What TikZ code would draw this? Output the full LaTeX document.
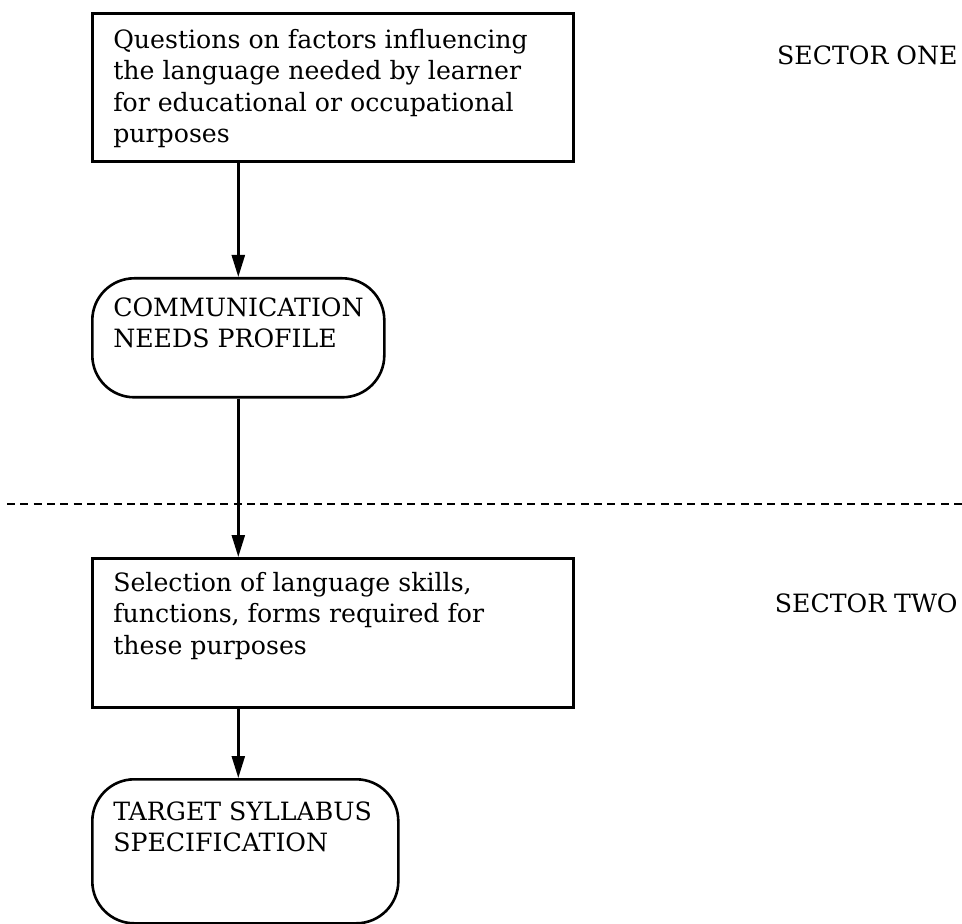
\documentclass[tikz,border=0pt]{standalone}
\usepackage{fontspec}
\setmainfont{DejaVu Serif}
\usetikzlibrary{arrows.meta}
\newcommand{\boxtxt}[5]{\parbox[t][#2][t]{#1}{\raggedright\leftskip=#3\relax\rule{0pt}{#4}#5}}
\tikzset{
  txt/.style={font=\fontsize{12.6pt}{15.75pt}\selectfont},
  rectbox/.style={draw, line width=1.3pt, inner sep=0pt, anchor=north west, txt},
  roundbox/.style={rectbox, rounded corners=21pt},
  arr/.style={line width=1.2pt, -{Triangle[length=11pt,width=6.5pt]}},
  sector/.style={txt, inner sep=0pt, anchor=base east},
  divider/.style={dash pattern=on 4pt off 2.67pt, line width=0.8pt}
}
\begin{document}
\begin{tikzpicture}[x=0.5pt,y=-0.5pt]
\useasboundingbox (0,0) rectangle (962,924);
\node[rectbox] (q) at (91,12) {\boxtxt{240.5pt}{74pt}{10.5pt}{17.5pt}{Questions on factors influencing\\the language needed by learner\\for educational or occupational\\purposes}};
\node[roundbox] (cp) at (91,277) {\boxtxt{146pt}{59.5pt}{10.5pt}{19pt}{COMMUNICATION\\NEEDS PROFILE}};
\node[rectbox] (sel) at (91,557) {\boxtxt{240.5pt}{74.5pt}{10.5pt}{16.5pt}{Selection of language skills,\\functions, forms required for\\these purposes}};
\node[roundbox] (ts) at (91,778) {\boxtxt{153pt}{72pt}{10.5pt}{20.5pt}{TARGET SYLLABUS\\SPECIFICATION}};
\node[sector] (s1) at (958,65) {SECTOR ONE};
\node[sector] (s2) at (958,612) {SECTOR TWO};
\coordinate (dl) at (7,504);
\coordinate (dr) at (962,504);
\draw[divider] (dl) -- (dr);
\draw[arr] (q.south -| cp.north) -- (cp.north);
\draw[arr] (cp.south) -- (sel.north -| cp.south);
\draw[arr] (sel.south -| cp.south) -- (ts.north -| cp.south);
\end{tikzpicture}
\end{document}
